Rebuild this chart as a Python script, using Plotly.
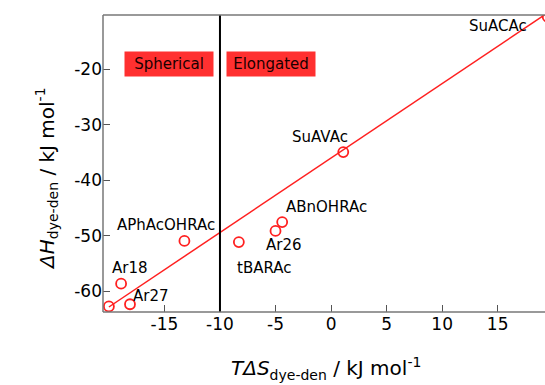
import plotly.graph_objects as go

# Data (kJ/mol)
names = ["SuARAc", "Ar18", "Ar27", "APhAcOHRAc", "tBARAc", "Ar26", "ABnOHRAc", "SuAVAc", "SuACAc"]
tds = [-20.0, -18.9, -18.1, -13.2, -8.3, -5.0, -4.4, 1.1, 19.5]
dh = [-62.7, -58.6, -62.3, -50.9, -51.1, -49.1, -47.5, -34.9, -10.5]

label_x = [-20.85, -18.1, -16.2, -14.9, -6.0, -4.2, -0.45, -1.0, 15.0]
label_y = [-66.3, -55.7, -60.9, -48.0, -55.7, -51.6, -44.7, -32.2, -12.1]

fit_x = [-20.0, 19.5]
fit_y = [-62.8, -9.8]

boundary_x = -10.0
regions = ["Spherical", "Elongated"]
region_x = [-14.55, -5.45]
region_y = [-19.1, -19.1]

x_ticks = [-15, -10, -5, 0, 5, 10, 15]
x_ticktext = ["-15", "-10", "-5", "0", "5", "10", "15"]
y_ticks = [-60, -50, -40, -30, -20]
y_ticktext = ["-60", "-50", "-40", "-30", "-20"]

RED = "#ff2020"
AXIS = "#777"
FONT = "DejaVu Sans"

fig = go.Figure()
fig.add_trace(go.Scatter(x=fit_x, y=fit_y, mode="lines",
                         line=dict(color=RED, width=1.5), showlegend=False))
fig.add_trace(go.Scatter(x=tds, y=dh, mode="markers",
                         marker=dict(symbol="circle-open", size=10, color=RED,
                                     line=dict(color=RED, width=1.8)),
                         showlegend=False))

fig.add_shape(type="line", xref="x", yref="paper", x0=boundary_x, x1=boundary_x,
              y0=0, y1=1, line=dict(color="black", width=2))
# frame: left, bottom, top
fig.add_shape(type="line", xref="paper", yref="paper", x0=0, x1=1,
              y0=1, y1=1, line=dict(color=AXIS, width=1.5))
fig.add_shape(type="line", xref="paper", yref="paper", x0=0, x1=1,
              y0=0, y1=0, line=dict(color=AXIS, width=1.5))
fig.add_shape(type="line", xref="paper", yref="paper", x0=0, x1=0,
              y0=0, y1=1, line=dict(color=AXIS, width=1.5))

for n, lx, ly in zip(names, label_x, label_y):
    fig.add_annotation(x=lx, y=ly, text=n, showarrow=False,
                       font=dict(family=FONT, size=15, color="black"))

for r, rx, ry in zip(regions, region_x, region_y):
    fig.add_annotation(x=rx, y=ry, text=r, showarrow=False,
                       bgcolor="#ff3030", width=86, height=22, borderpad=1,
                       font=dict(family=FONT, size=15, color="#1a0000"))

fig.add_annotation(xref="paper", yref="paper", x=-0.165, y=0.45,
                   text="<i>ΔH</i><sub>dye-den</sub> / kJ mol<sup>-1</sup>",
                   textangle=-90, showarrow=False,
                   font=dict(family=FONT, size=20, color="black"))
fig.add_annotation(xref="paper", yref="paper", x=0.505, y=-0.245,
                   text="<i>TΔS</i><sub>dye-den</sub> / kJ mol<sup>-1</sup>",
                   showarrow=False,
                   font=dict(family=FONT, size=20, color="black"))

fig.update_layout(
    width=545, height=385,
    margin=dict(l=103, r=0, t=15, b=73),
    paper_bgcolor="white", plot_bgcolor="white",
    font=dict(family=FONT, size=17, color="black"),
)
fig.update_xaxes(range=[-20.53, 19.26], tickvals=x_ticks, ticktext=x_ticktext,
                 ticks="inside", ticklen=7,
                 tickcolor="#555", showgrid=False, zeroline=False,
                 showline=False, tickfont=dict(family=FONT, size=17))
fig.update_yaxes(range=[-63.7, -10.2], tickvals=y_ticks, ticktext=y_ticktext,
                 ticks="inside", ticklen=7,
                 tickcolor="#555", showgrid=False, zeroline=False,
                 showline=False, tickfont=dict(family=FONT, size=17))

fig.write_html("out.html")
